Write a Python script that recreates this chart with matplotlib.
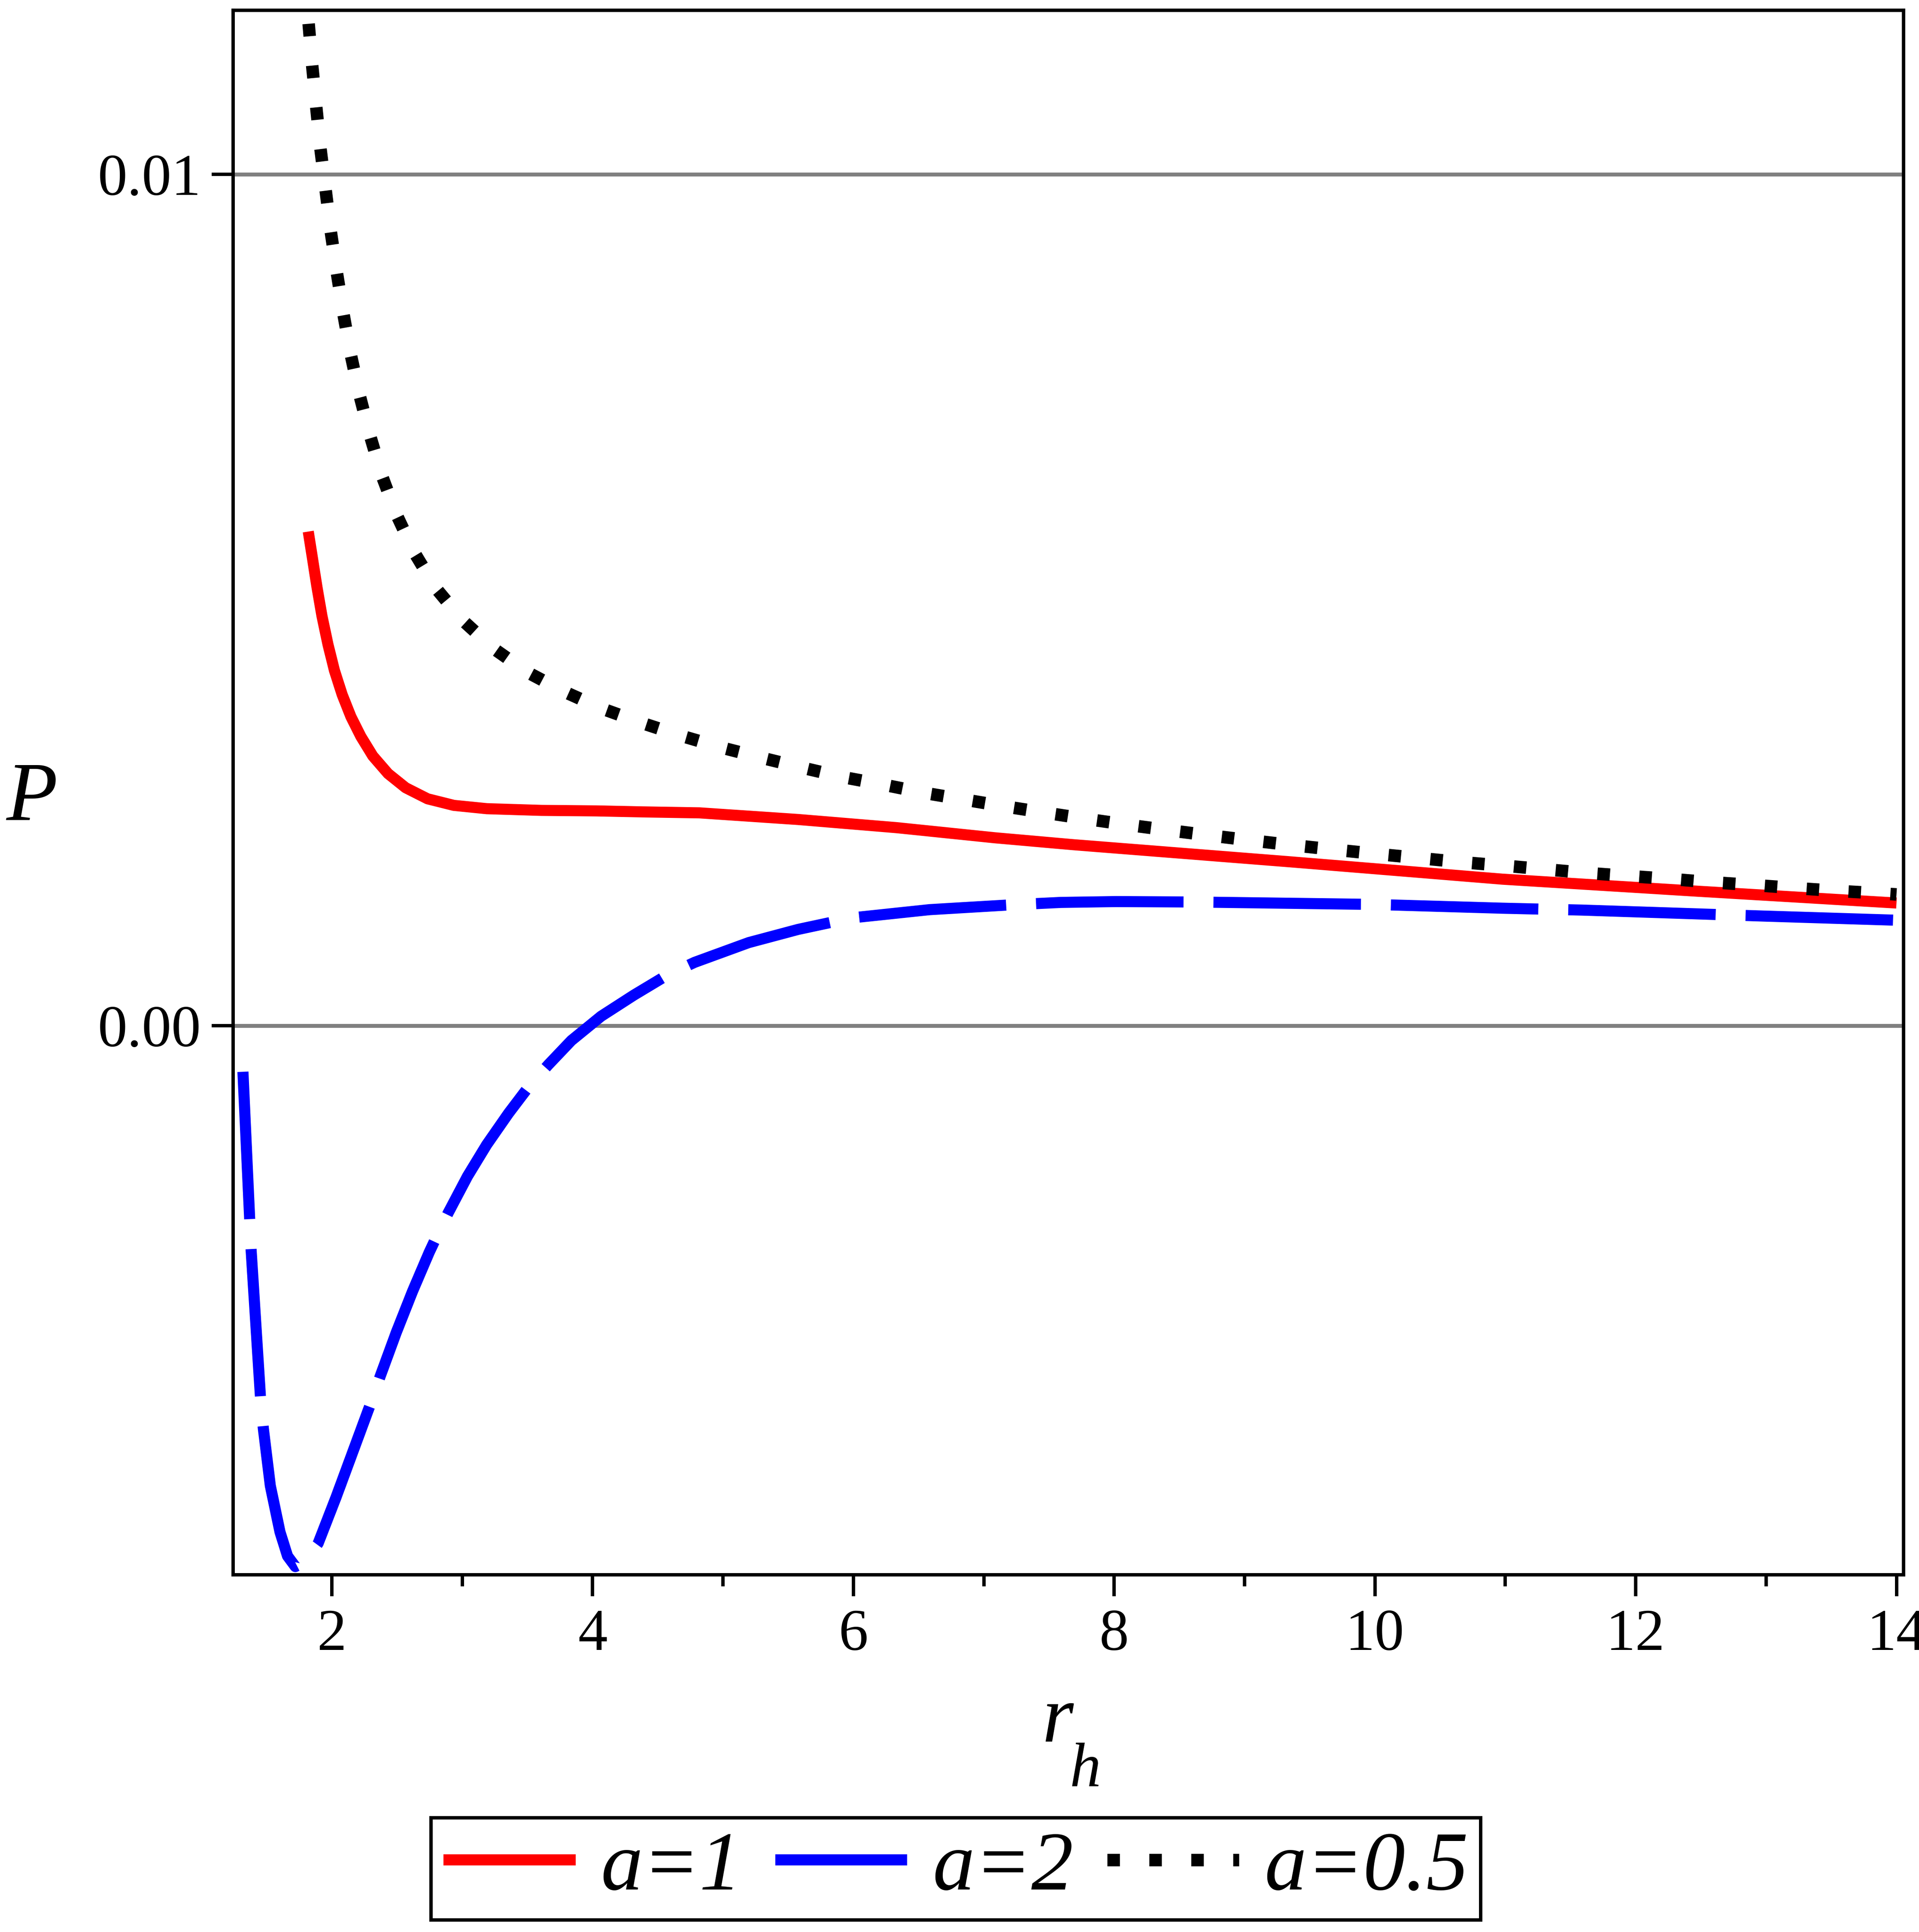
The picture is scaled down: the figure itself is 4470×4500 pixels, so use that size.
import os
import glob
import matplotlib
import matplotlib.pyplot as plt
from matplotlib import font_manager
from matplotlib.font_manager import FontProperties


def find_font(patterns):
    for p in patterns:
        hits = sorted(glob.glob(p, recursive=True))
        if hits:
            return hits[0]
    return None


# Times-like serif by file: Liberation Serif if present, else matplotlib's STIX
mpl_ttf = os.path.join(matplotlib.get_data_path(), 'fonts', 'ttf')
f_reg = find_font(['/usr/share/fonts/**/LiberationSerif-Regular.ttf',
                   '/usr/local/share/fonts/**/LiberationSerif-Regular.ttf',
                   '/usr/**/LiberationSerif-Regular.ttf',
                   os.path.join(mpl_ttf, 'STIXGeneral.ttf')])
f_ita = find_font(['/usr/share/fonts/**/LiberationSerif-Italic.ttf',
                   '/usr/local/share/fonts/**/LiberationSerif-Italic.ttf',
                   '/usr/**/LiberationSerif-Italic.ttf',
                   os.path.join(mpl_ttf, 'STIXGeneralItalic.ttf')])
font_manager.fontManager.addfont(f_reg)
font_manager.fontManager.addfont(f_ita)


def fp_reg(size):
    return FontProperties(fname=f_reg, size=size)


def fp_ita(size):
    return FontProperties(fname=f_ita, size=size)


# curves: r_h values and P values
rh_a1 = [1.819, 1.852, 1.886, 1.924, 1.970, 2.020, 2.079, 2.146, 2.222, 2.314,
         2.431, 2.566, 2.734, 2.935, 3.188, 3.607, 4.028, 4.394, 4.820, 5.576,
         6.332, 7.087, 7.687, 9.333, 10.979, 12.482, 14.0]
p_a1 = [0.005803, 0.005482, 0.005149, 0.004812, 0.004478, 0.004170, 0.003888,
        0.003629, 0.003397, 0.003167, 0.002960, 0.002794, 0.002664, 0.002587,
        0.002548, 0.002528, 0.002522, 0.002510, 0.002499, 0.002421, 0.002325,
        0.002206, 0.002125, 0.001926, 0.001720, 0.001578, 0.001440]

rh_a2 = [1.318, 1.370, 1.381, 1.453, 1.475, 1.528, 1.602, 1.660, 1.720, 1.790,
         1.895, 2.032, 2.293, 2.368, 2.494, 2.619, 2.746, 2.798, 2.892, 3.040,
         3.187, 3.355, 3.511, 3.660, 3.837, 4.065, 4.316, 4.568, 4.782, 5.197,
         5.576, 5.991, 6.584, 7.212, 7.591, 8.016, 8.611, 9.975, 10.979,
         11.590, 12.955, 14.0]
p_a2 = [-0.000542, -0.002284, -0.002640, -0.004377, -0.004738, -0.005404,
        -0.005946, -0.006230, -0.006354, -0.006300, -0.006080, -0.005540,
        -0.004458, -0.004130, -0.003604, -0.003120, -0.002665, -0.002495,
        -0.002200, -0.001770, -0.001400, -0.001030, -0.000715, -0.000460,
        -0.000175, 0.000110, 0.000358, 0.000590, 0.000743, 0.000975,
        0.001130, 0.001266, 0.001362, 0.001419, 0.001447, 0.001457,
        0.001452, 0.001424, 0.001379, 0.001357, 0.001288, 0.001238]

rh_a05 = [1.822, 1.849, 1.880, 1.912, 1.952, 1.991, 2.038, 2.088, 2.145, 2.212,
          2.292, 2.384, 2.496, 2.632, 2.797, 3.001, 3.237, 3.498, 3.781, 4.071,
          4.377, 4.677, 4.983, 5.293, 5.604, 5.915, 6.228, 6.546, 6.858, 7.173,
          7.491, 7.808, 8.125, 8.443, 8.760, 9.076, 9.394, 9.713, 10.030,
          10.347, 10.667, 10.989, 11.305, 11.623, 11.941, 12.260, 12.580,
          12.898, 13.218, 13.538, 13.856, 14.0]
p_a05 = [0.011767, 0.011281, 0.010793, 0.010308, 0.009818, 0.009334, 0.008847,
         0.008366, 0.007882, 0.007408, 0.006934, 0.006458, 0.006001, 0.005557,
         0.005139, 0.004763, 0.004433, 0.004152, 0.003923, 0.003724, 0.003555,
         0.003405, 0.003268, 0.003147, 0.003031, 0.002920, 0.002831, 0.002733,
         0.002653, 0.002572, 0.002496, 0.002423, 0.002354, 0.002290, 0.002229,
         0.002171, 0.002115, 0.002063, 0.002014, 0.001967, 0.001919, 0.001879,
         0.001836, 0.001793, 0.001758, 0.001723, 0.001684, 0.001652, 0.001616,
         0.001583, 0.001555, 0.001541]

labels = ['a=1', 'a=2', 'a=0.5']
x_major = [2, 4, 6, 8, 10, 12, 14]
x_minor = [3, 5, 7, 9, 11, 13]
y_ticks = [0.0, 0.01]
y_ticklabels = ['0.00', '0.01']

fig = plt.figure(figsize=(14.9, 15), dpi=300)
ax = fig.add_axes([0.1215, 0.1849, 0.8705, 0.8098])

l1, = ax.plot(rh_a1, p_a1, color='#ff0000', lw=6.2, solid_capstyle='butt',
              solid_joinstyle='round')
l2, = ax.plot(rh_a2, p_a2, color='#0000ff', lw=6.2, linestyle=(0, (13.3, 2.7)),
              dash_capstyle='butt', dash_joinstyle='round')
l3, = ax.plot(rh_a05, p_a05, color='black', lw=7.0, linestyle=(0, (1.0, 2.35)),
              dash_capstyle='butt')

ax.set_xlim(1.243, 14.055)
ax.set_ylim(-0.00645, 0.011926)

ax.set_xticks(x_major)
ax.set_xticks(x_minor, minor=True)
ax.set_yticks(y_ticks, labels=y_ticklabels)
ax.grid(axis='y', color='#808080', linewidth=2.2)
ax.set_axisbelow(True)

for s in ax.spines.values():
    s.set_linewidth(1.9)
ax.tick_params(which='major', length=12, width=1.9, direction='out')
ax.tick_params(which='minor', length=6.5, width=1.9, direction='out')
ax.tick_params(axis='x', which='major', pad=7)
ax.tick_params(axis='y', which='major', pad=6)
for lab in ax.get_xticklabels() + ax.get_yticklabels():
    lab.set_fontproperties(fp_reg(33))

# axis labels as placed by Maple
fig.text(0.0166, 1 - 1910 / 4500, 'P', fontproperties=fp_ita(47),
         ha='center', va='baseline')
fig.text(0.5512, 1 - 4055 / 4500, 'r', fontproperties=fp_ita(45),
         ha='center', va='baseline')
fig.text(0.5655, 1 - 4160 / 4500, 'h', fontproperties=fp_ita(35),
         ha='center', va='baseline')

leg = fig.legend([l1, l2, l3], labels, loc='center',
                 bbox_to_anchor=(0.4981, 1 - 4353 / 4500), ncol=3,
                 frameon=True, fancybox=False, edgecolor='black', framealpha=1,
                 prop=fp_ita(47),
                 handlelength=1.57, handletextpad=0.3, columnspacing=0.4,
                 borderpad=0.15)
leg.get_frame().set_linewidth(1.9)

fig.savefig('out.png', dpi=300)
